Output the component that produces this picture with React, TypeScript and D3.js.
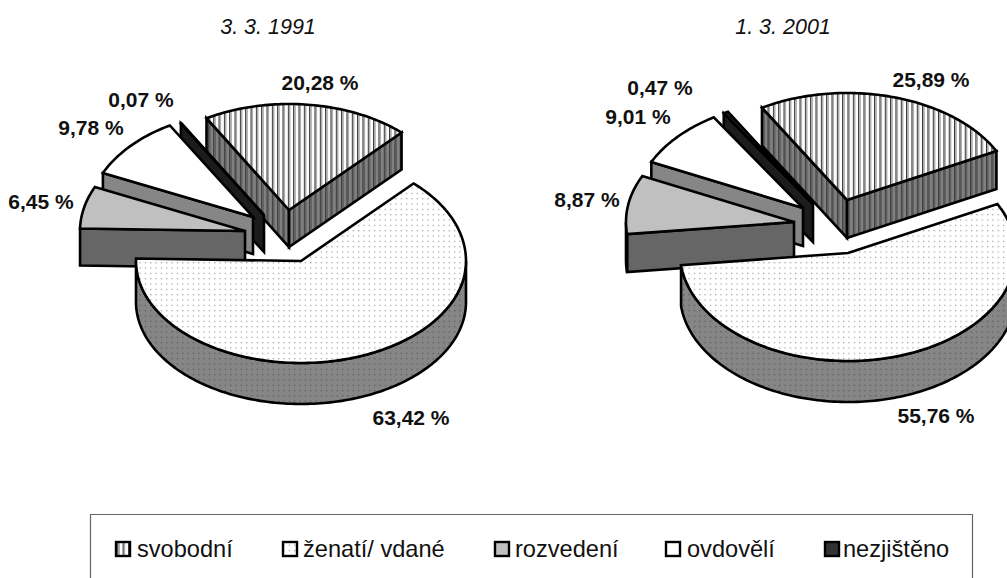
import React from "react";
import * as d3 from "d3";

const categories = ["svobodní", "ženatí/ vdané", "rozvedení", "ovdovělí", "nezjištěno"];
const values1991 = [20.28, 63.42, 6.45, 9.78, 0.07];
const values2001 = [25.89, 55.76, 8.87, 9.01, 0.47];
const labels1991 = ["20,28 %", "63,42 %", "6,45 %", "9,78 %", "0,07 %"];
const labels2001 = ["25,89 %", "55,76 %", "8,87 %", "9,01 %", "0,47 %"];

const TOP = ["url(#stripeTop)", "url(#dotTop)", "#c0c0c0", "#ffffff", "#1c1c1c"];
const WALL = ["url(#stripeWall)", "url(#dotWall)", "#666666", "#868686", "#1c1c1c"];
const SWATCH = ["url(#stripeTop)", "url(#dotTop)", "#c0c0c0", "#ffffff", "#333333"];
const DRAW_ORDER = [0, 4, 3, 2, 1];

const layouts = [
  {
    title: "3. 3. 1991", titleX: 268, titleY: 33.5,
    values: values1991, labels: labels1991,
    cx: 301, cy: 261, rx: 165, ryBack: 106, ryFront: 102, depth: 41, sideDepth: 37, startDeg: -30,
    offsets: [[-12, -51], [0, 0], [-56, -30], [-48, -44], [-37, -46]],
    labelPos: [[320, 90], [411, 425], [41, 209], [91, 135], [141, 107]],
  },
  {
    title: "1. 3. 2001", titleX: 783, titleY: 33.5,
    values: values2001, labels: labels2001,
    cx: 848, cy: 253, rx: 168, ryBack: 107, ryFront: 108, depth: 41, sideDepth: 38, startDeg: -30.4,
    offsets: [[-1, -53], [0, 0], [-54, -31], [-45, -45], [-35, -49]],
    labelPos: [[931, 87], [936, 423], [587, 207], [638, 124], [660, 95]],
  },
];

const legendX = [[115, 137], [282, 303], [494, 515], [665, 687], [824, 843]];

type Pt = [number, number];

function Pie({ l }: { l: (typeof layouts)[number] }) {
  const arcs = d3
    .pie<number>()
    .sort(null)
    .value((d) => d)
    .startAngle((l.startDeg * Math.PI) / 180)
    .endAngle((l.startDeg * Math.PI) / 180 + 2 * Math.PI)(l.values);
  const line = d3.line<Pt>();
  const pt = (t: number, ox: number, oy: number, down = 0): Pt => {
    const c = Math.cos(t);
    return [l.cx + ox + l.rx * Math.sin(t), l.cy + oy - (c > 0 ? l.ryBack : l.ryFront) * c + down];
  };
  const sample = (a: number, b: number) => {
    const n = Math.max(2, Math.ceil(Math.abs(b - a) / 0.02));
    return d3.range(n + 1).map((i) => a + ((b - a) * i) / n);
  };
  return (
    <g>
      {DRAW_ORDER.map((i) => {
        const a = arcs[i];
        const [ox, oy] = l.offsets[i];
        const depth = i === 1 ? l.depth : l.sideDepth;
        const apex: Pt = [l.cx + ox, l.cy + oy];
        const apexD: Pt = [apex[0], apex[1] + depth];
        const walls: string[] = [];
        if (Math.sin(a.startAngle) < 0) {
          const p = pt(a.startAngle, ox, oy);
          walls.push(line([apex, p, [p[0], p[1] + depth], apexD])! + "Z");
        }
        if (Math.sin(a.endAngle) > 0) {
          const p = pt(a.endAngle, ox, oy);
          walls.push(line([apex, p, [p[0], p[1] + depth], apexD])! + "Z");
        }
        const w0 = Math.max(a.startAngle, Math.PI / 2);
        const w1 = Math.min(a.endAngle, (3 * Math.PI) / 2);
        if (w1 > w0) {
          const ts = sample(w0, w1);
          const front = ts.map((t) => pt(t, ox, oy));
          const back = ts.map((t) => pt(t, ox, oy, depth)).reverse();
          walls.push(line([...front, ...back])! + "Z");
        }
        const top = line([apex, ...sample(a.startAngle, a.endAngle).map((t) => pt(t, ox, oy))])! + "Z";
        return (
          <g key={i} stroke="#000" strokeWidth={2.6} strokeLinejoin="miter">
            {walls.map((d, k) => (
              <path key={k} d={d} fill={WALL[i]} />
            ))}
            <path d={top} fill={TOP[i]} />
          </g>
        );
      })}
      <text x={l.titleX} y={l.titleY} textAnchor="middle" fontStyle="italic" fontSize={21.5} fill="#111">
        {l.title}
      </text>
      {l.labels.map((t, i) => (
        <text key={i} x={l.labelPos[i][0]} y={l.labelPos[i][1]} textAnchor="middle" fontWeight="bold" fontSize={21} fill="#111">
          {t}
        </text>
      ))}
    </g>
  );
}

export default function App() {
  return (
    <svg
      width={1007}
      height={578}
      style={{ position: "absolute", left: 0, top: 0, background: "#fff" }}
      fontFamily="'Liberation Sans', Arial, sans-serif"
    >
      <defs>
        <pattern id="stripeTop" patternUnits="userSpaceOnUse" width={5.33} height={8}>
          <rect width={5.33} height={8} fill="#fff" />
          <rect x={0} width={1.2} height={8} fill="#333" />
          <rect x={1.2} width={1.4} height={8} fill="#a8a8a8" />
        </pattern>
        <pattern id="stripeWall" patternUnits="userSpaceOnUse" width={5.33} height={8}>
          <rect width={5.33} height={8} fill="#808080" />
          <rect x={0} width={1.2} height={8} fill="#3c3c3c" />
          <rect x={1.2} width={1.4} height={8} fill="#5c5c5c" />
        </pattern>
        <pattern id="dotTop" patternUnits="userSpaceOnUse" width={5.33} height={5.33}>
          <rect width={5.33} height={5.33} fill="#fff" />
          <rect x={1} y={1} width={1.1} height={1.1} fill="#888" />
        </pattern>
        <pattern id="dotWall" patternUnits="userSpaceOnUse" width={5.33} height={5.33}>
          <rect width={5.33} height={5.33} fill="#868686" />
          <rect x={1} y={1} width={1.1} height={1.1} fill="#4a4a4a" />
        </pattern>
      </defs>
      {layouts.map((l) => (
        <Pie key={l.title} l={l} />
      ))}
      <path d="M90.5,578V514.5H972.5V578" fill="none" stroke="#666" strokeWidth={1.2} />
      {categories.map((c, i) => (
        <g key={c}>
          <rect x={legendX[i][0] + 1} y={542} width={14} height={14} fill={SWATCH[i]} stroke="#000" strokeWidth={2.4} />
          <text x={legendX[i][1]} y={557} fontSize={23.6} fill="#111">
            {c}
          </text>
        </g>
      ))}
    </svg>
  );
}
